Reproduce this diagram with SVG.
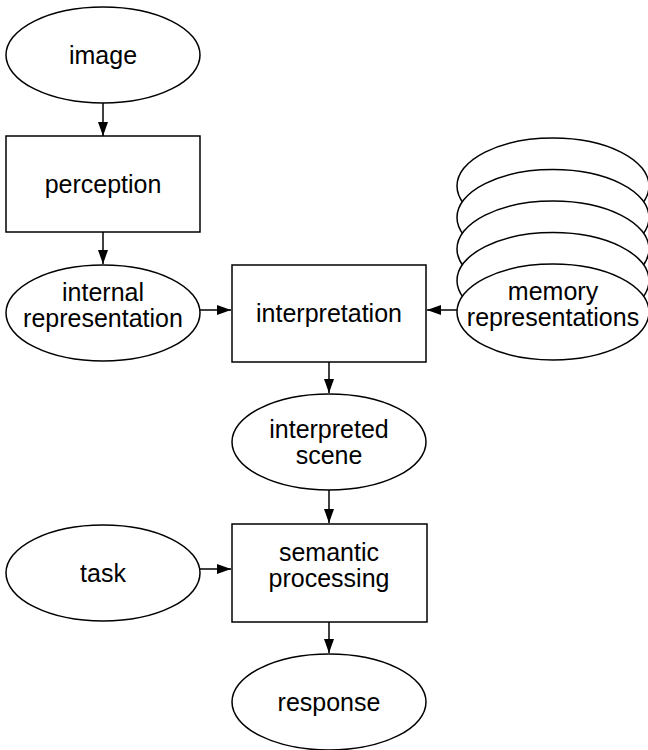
<svg xmlns="http://www.w3.org/2000/svg" width="648" height="750" viewBox="0 0 648 750">
<style>
.n{fill:#fff;stroke:#000;stroke-width:1.5}
.t{font-family:"Liberation Sans",Arial,sans-serif;font-size:25px;fill:#000;text-anchor:middle}
.c{stroke:#000;stroke-width:1.5;fill:none}
</style>
<defs>
<marker id="ah" viewBox="0 0 14 10" refX="14" refY="5" markerWidth="14" markerHeight="10" markerUnits="userSpaceOnUse" orient="auto">
<path d="M0,0 L14,5 L0,10 Z" fill="#000"/>
</marker>
</defs>
<rect width="648" height="750" fill="#fff"/>
<g id="image"><ellipse class="n" cx="103" cy="55" rx="97" ry="48"/><text class="t" x="103" y="64">image</text></g>
<g id="perception"><rect class="n" x="6" y="136" width="194" height="96"/><text class="t" x="103" y="193">perception</text></g>
<g id="internal-representation"><ellipse class="n" cx="103" cy="313" rx="97" ry="48"/><text class="t" x="103" y="301">internal</text><text class="t" x="103" y="327">representation</text></g>
<g id="interpretation"><rect class="n" x="232" y="265" width="194" height="97"/><text class="t" x="329" y="322">interpretation</text></g>
<g id="memory-representations">
<ellipse class="n" cx="553" cy="186" rx="96" ry="48"/>
<ellipse class="n" cx="553" cy="217.5" rx="96" ry="48"/>
<ellipse class="n" cx="553" cy="249" rx="96" ry="48"/>
<ellipse class="n" cx="553" cy="280.5" rx="96" ry="48"/>
<ellipse class="n" cx="553" cy="312" rx="96" ry="48"/>
<text class="t" x="553" y="300">memory</text><text class="t" x="553" y="326">representations</text></g>
<g id="interpreted-scene"><ellipse class="n" cx="329" cy="442" rx="97" ry="48"/><text class="t" x="329" y="438">interpreted</text><text class="t" x="329" y="464">scene</text></g>
<g id="task"><ellipse class="n" cx="103" cy="573" rx="97" ry="48"/><text class="t" x="103" y="582">task</text></g>
<g id="semantic-processing"><rect class="n" x="232" y="524" width="195" height="98"/><text class="t" x="329" y="561">semantic</text><text class="t" x="329" y="587">processing</text></g>
<g id="response"><ellipse class="n" cx="329" cy="702" rx="97" ry="48"/><text class="t" x="329" y="711">response</text></g>
<g id="connectors">
<line class="c" x1="103" y1="103" x2="103" y2="136" marker-end="url(#ah)"/>
<line class="c" x1="103" y1="232" x2="103" y2="264" marker-end="url(#ah)"/>
<line class="c" x1="200" y1="310" x2="231" y2="310" marker-end="url(#ah)"/>
<line class="c" x1="457" y1="310" x2="427" y2="310" marker-end="url(#ah)"/>
<line class="c" x1="329" y1="362" x2="329" y2="393" marker-end="url(#ah)"/>
<line class="c" x1="329" y1="490" x2="329" y2="523" marker-end="url(#ah)"/>
<line class="c" x1="200" y1="569" x2="231" y2="569" marker-end="url(#ah)"/>
<line class="c" x1="329" y1="622" x2="329" y2="653" marker-end="url(#ah)"/>
</g>
</svg>
